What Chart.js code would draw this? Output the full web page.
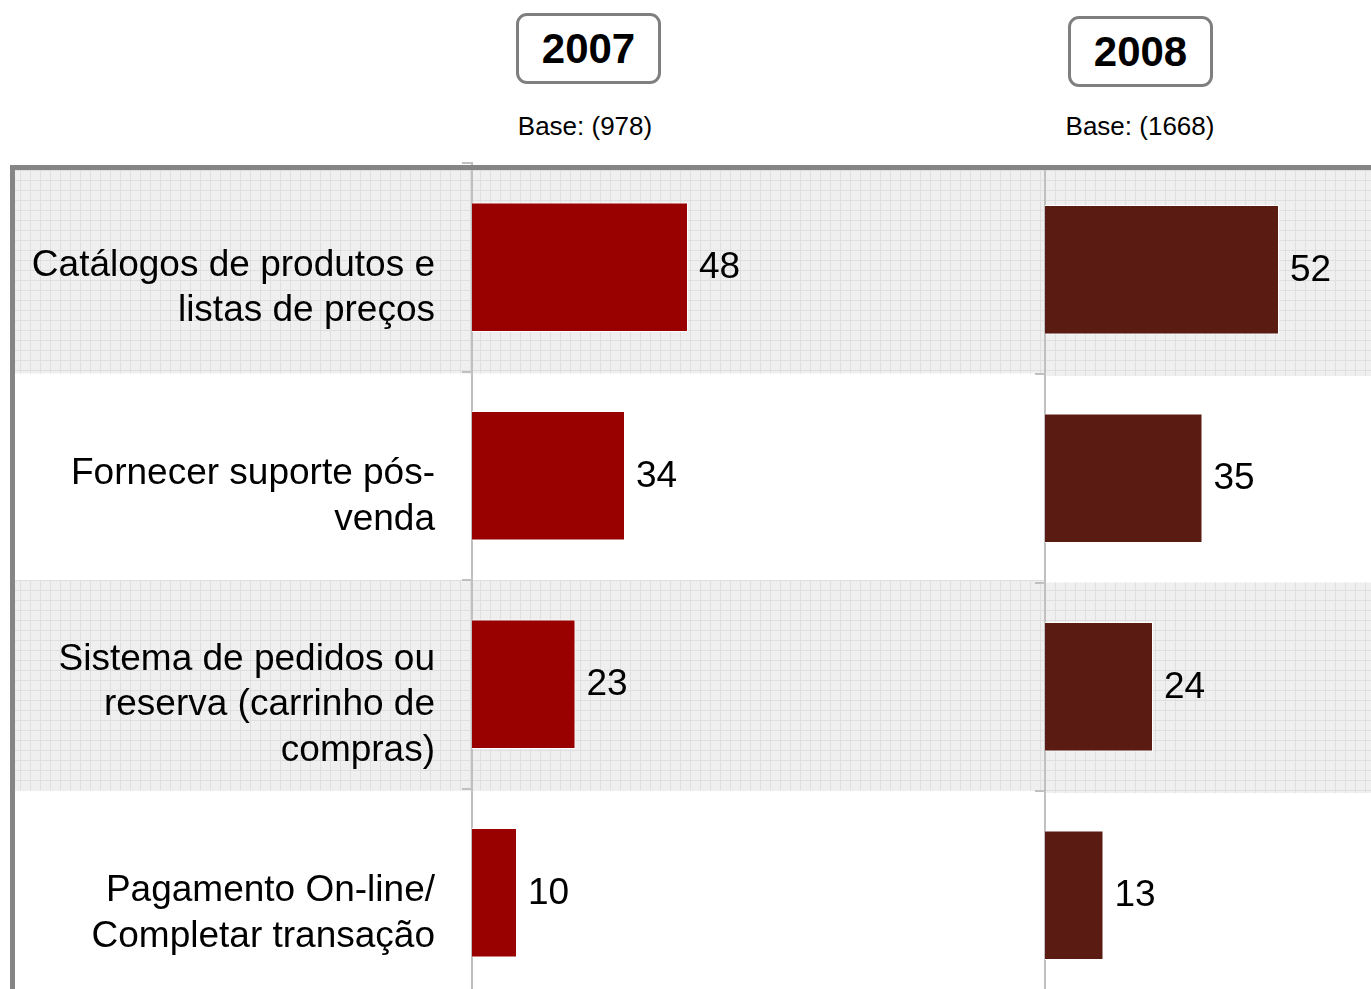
<!DOCTYPE html>
<html>
<head>
<meta charset="utf-8">
<script src="https://cdn.jsdelivr.net/npm/chart.js@4.4.0/dist/chart.umd.min.js"></script>
<style>
  html, body { margin:0; padding:0; background:#fff; overflow:hidden; width:1371px; height:989px; }
  body { position:relative; font-family:"Liberation Sans", Arial, sans-serif; }
  canvas { position:absolute; top:0; }
  #c1 { left:0; }
  #c2 { left:985px; }
  .yearbox { position:absolute; width:139px; height:65px; border:3px solid #7f7f7f; border-radius:11px;
             font-weight:bold; font-size:42px; line-height:65px; text-align:center; color:#000; background:#fff; }
  .base { position:absolute; width:300px; height:30px; line-height:30px; font-size:26px; text-align:center; color:#000; }
</style>
</head>
<body>
<div class="yearbox" id="y1" style="left:516px; top:13px;"></div>
<div class="yearbox" id="y2" style="left:1068px; top:16px;"></div>
<div class="base" id="b1" style="left:435px; top:111px;"></div>
<div class="base" id="b2" style="left:990px; top:111px;"></div>
<canvas id="c1" width="1045" height="1000"></canvas>
<canvas id="c2" width="386" height="1000"></canvas>
<script>
const categories = [
  ["Catálogos de produtos e", "listas de preços"],
  ["Fornecer suporte pós-", "venda"],
  ["Sistema de pedidos ou", "reserva (carrinho de", "compras)"],
  ["Pagamento On-line/", "Completar transação"]
];
const values2007 = [48, 34, 23, 10];
const values2008 = [52, 35, 24, 13];
const years = ["2007", "2008"];
const bases = ["Base: (978)", "Base: (1668)"];

document.getElementById('y1').textContent = years[0];
document.getElementById('y2').textContent = years[1];
document.getElementById('b1').textContent = bases[0];
document.getElementById('b2').textContent = bases[1];

const FONT = '"Liberation Sans", Arial, sans-serif';
const PX_PER_UNIT = 4.5;

// graph-paper pattern
const pc = document.createElement('canvas');
pc.width = 10; pc.height = 10;
const pctx = pc.getContext('2d');
pctx.fillStyle = '#efefef'; pctx.fillRect(0,0,10,10);
pctx.fillStyle = '#dfdfdf'; pctx.fillRect(0,0,10,1); pctx.fillRect(0,0,1,10);

function makeBands(getX0) {
  return {
    id: 'bands',
    beforeDraw(chart) {
      const ctx = chart.ctx, y = chart.scales.y;
      const pattern = ctx.createPattern(pc, 'repeat');
      const half = (y.getPixelForValue(1) - y.getPixelForValue(0)) / 2;
      const x0 = getX0(chart);
      ctx.save();
      ctx.fillStyle = pattern;
      for (let i = 0; i < categories.length; i += 2) {
        const c = y.getPixelForValue(i);
        const top = Math.max(c - half, 170);
        const bot = c + half + 2;
        ctx.fillRect(x0, top, chart.width - x0, bot - top);
      }
      ctx.restore();
    }
  };
}
function makeFrame(left) {
  return {
    id: 'frame',
    beforeDatasetsDraw(chart) {
      const ctx = chart.ctx;
      ctx.save();
      ctx.fillStyle = '#858585';
      ctx.fillRect(left ? 10 : 0, 165, chart.width, 5);
      if (left) ctx.fillRect(10, 165, 5, chart.height);
      ctx.restore();
    }
  };
}
const valueLabels = {
  id: 'valueLabels',
  afterDatasetsDraw(chart) {
    const ctx = chart.ctx;
    const ds = chart.data.datasets[0];
    const meta = chart.getDatasetMeta(0);
    ctx.save();
    ctx.font = '37px ' + FONT;
    ctx.fillStyle = '#000';
    ctx.textAlign = 'left';
    ctx.textBaseline = 'middle';
    meta.data.forEach((bar, i) => {
      ctx.fillText(String(ds.data[i]), bar.x + 11, bar.y + 1);
    });
    ctx.restore();
  }
};

function makeChart(id, data, color, yWidth, areaWidth, padTop, padBottom, showLabels) {
  return new Chart(document.getElementById(id), {
    type: 'bar',
    data: {
      labels: categories,
      datasets: [{
        data: data,
        backgroundColor: color,
        borderColor: '#ffffff',
        borderWidth: 1,
        categoryPercentage: 1,
        barPercentage: 0.62
      }]
    },
    options: {
      indexAxis: 'y',
      responsive: false,
      animation: false,
      layout: { padding: { top: padTop, bottom: padBottom, left: 0, right: 0 } },
      plugins: { legend: { display: false }, tooltip: { enabled: false }, title: { display: false } },
      scales: {
        x: { display: false, min: 0, max: areaWidth / PX_PER_UNIT },
        y: {
          z: 1,
          afterFit(scale) { scale.width = yWidth; scale.paddingTop = 0; scale.paddingBottom = 0; },
          grid: { display: true, drawOnChartArea: false, drawTicks: true, tickLength: 10, color: '#c0c0c0', lineWidth: 2 },
          border: { display: true, color: '#c0c0c0', width: 2 },
          ticks: {
            display: showLabels,
            padding: 27,
            labelOffset: 21,
            color: '#000',
            font: { family: FONT, size: 37, lineHeight: 1.23 }
          }
        }
      }
    },
    plugins: [makeBands(ch => showLabels ? 15 : ch.chartArea.left), makeFrame(showLabels), valueLabels]
  });
}

makeChart('c1', values2007, '#990000', 472, 1045 - 472, 163, 3, true);
makeChart('c2', values2008, '#5a1b12', 60, 386 - 60, 165.5, 0.5, false);
</script>
</body>
</html>
